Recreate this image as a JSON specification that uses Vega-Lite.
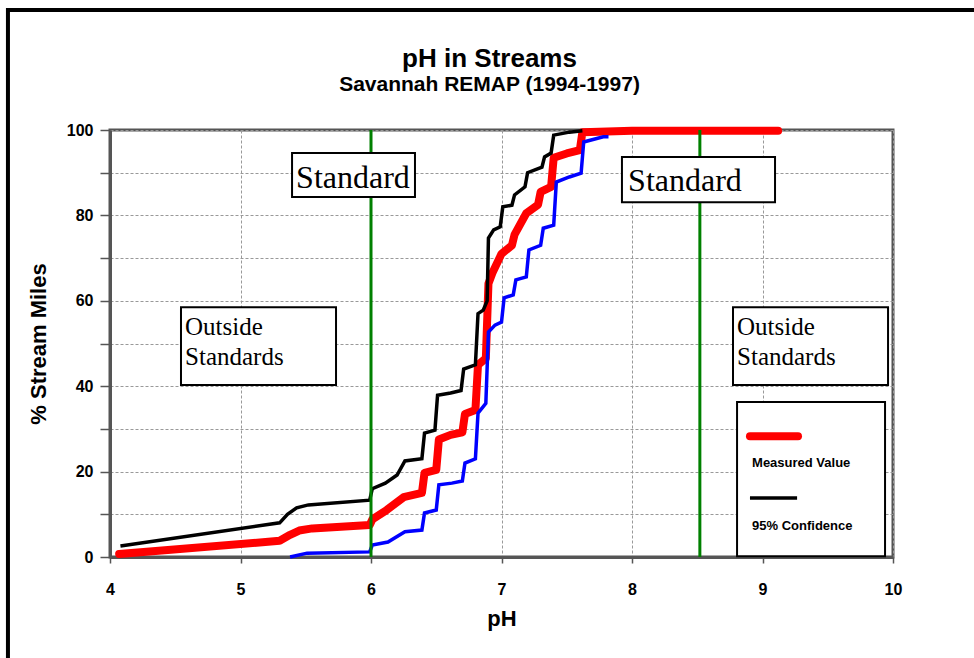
{
  "$schema": "https://vega.github.io/schema/vega-lite/v6.json",
  "width": 783,
  "height": 427,
  "autosize": {"type": "none"},
  "padding": {"left": 110, "top": 130, "right": 81, "bottom": 101},
  "background": "white",
  "title": {
    "text": "pH in Streams",
    "subtitle": "Savannah REMAP (1994-1997)",
    "anchor": "middle",
    "frame": "group",
    "dx": -12,
    "offset": -87,
    "font": "Liberation Sans",
    "fontSize": 26,
    "fontWeight": "bold",
    "color": "black",
    "subtitleFont": "Liberation Sans",
    "subtitleFontSize": 21,
    "subtitleFontWeight": "bold",
    "subtitleColor": "black",
    "subtitlePadding": 2
  },
  "config": {
    "view": {"stroke": "#555555", "strokeWidth": 3},
    "axis": {
      "labelFont": "Liberation Sans",
      "labelFontWeight": "bold",
      "labelFontSize": 16,
      "labelColor": "black",
      "titleFont": "Liberation Sans",
      "titleFontWeight": "bold",
      "titleFontSize": 22,
      "titleColor": "black",
      "domainColor": "#555555",
      "domainWidth": 3,
      "tickColor": "#555555",
      "tickWidth": 1.5,
      "gridColor": "#999999",
      "gridDash": [3, 2],
      "gridWidth": 1,
      "labelOverlap": false,
      "labelFlush": false
    }
  },
  "datasets": {
    "measured": [
      {"ph": 4.07, "pct": 0.7}, {"ph": 5.3, "pct": 3.8}, {"ph": 5.38, "pct": 5.2}, {"ph": 5.45, "pct": 6.2},
      {"ph": 5.55, "pct": 6.7}, {"ph": 5.99, "pct": 7.5}, {"ph": 6.01, "pct": 8.8}, {"ph": 6.12, "pct": 11},
      {"ph": 6.25, "pct": 14}, {"ph": 6.39, "pct": 15}, {"ph": 6.41, "pct": 19.7}, {"ph": 6.5, "pct": 20.4},
      {"ph": 6.52, "pct": 27.5}, {"ph": 6.61, "pct": 28.6}, {"ph": 6.7, "pct": 29.2}, {"ph": 6.72, "pct": 33.5},
      {"ph": 6.8, "pct": 34.4}, {"ph": 6.82, "pct": 45}, {"ph": 6.88, "pct": 46.5}, {"ph": 6.9, "pct": 64},
      {"ph": 6.93, "pct": 66.5}, {"ph": 7.0, "pct": 71}, {"ph": 7.08, "pct": 73}, {"ph": 7.1, "pct": 75.5},
      {"ph": 7.19, "pct": 80.5}, {"ph": 7.28, "pct": 82.5}, {"ph": 7.3, "pct": 85.5}, {"ph": 7.38, "pct": 86.7},
      {"ph": 7.4, "pct": 93.5}, {"ph": 7.5, "pct": 94.5}, {"ph": 7.6, "pct": 95.3}, {"ph": 7.62, "pct": 99.5},
      {"ph": 8.0, "pct": 99.8}, {"ph": 9.12, "pct": 99.8}
    ],
    "upper": [
      {"ph": 4.08, "pct": 2.6}, {"ph": 5.3, "pct": 8.0}, {"ph": 5.36, "pct": 10}, {"ph": 5.43, "pct": 11.5},
      {"ph": 5.52, "pct": 12.2}, {"ph": 5.99, "pct": 13.3}, {"ph": 6.01, "pct": 16.0}, {"ph": 6.11, "pct": 17.3},
      {"ph": 6.2, "pct": 19.2}, {"ph": 6.26, "pct": 22.5}, {"ph": 6.39, "pct": 23}, {"ph": 6.41, "pct": 29},
      {"ph": 6.49, "pct": 29.7}, {"ph": 6.51, "pct": 37.9}, {"ph": 6.61, "pct": 38.4}, {"ph": 6.69, "pct": 39},
      {"ph": 6.71, "pct": 44}, {"ph": 6.8, "pct": 45}, {"ph": 6.82, "pct": 57}, {"ph": 6.86, "pct": 57.8},
      {"ph": 6.89, "pct": 60}, {"ph": 6.9, "pct": 74.7}, {"ph": 6.94, "pct": 76.6}, {"ph": 6.99, "pct": 77.3},
      {"ph": 7.01, "pct": 82}, {"ph": 7.08, "pct": 82.4}, {"ph": 7.1, "pct": 84.8}, {"ph": 7.18, "pct": 86.7},
      {"ph": 7.2, "pct": 90}, {"ph": 7.31, "pct": 91.3}, {"ph": 7.33, "pct": 93.7}, {"ph": 7.38, "pct": 94.6},
      {"ph": 7.4, "pct": 98.8}, {"ph": 7.52, "pct": 99.5}, {"ph": 7.62, "pct": 99.8}
    ],
    "lower": [
      {"ph": 5.38, "pct": 0}, {"ph": 5.51, "pct": 0.9}, {"ph": 5.99, "pct": 1.2}, {"ph": 6.01, "pct": 2.8},
      {"ph": 6.13, "pct": 3.5}, {"ph": 6.26, "pct": 5.9}, {"ph": 6.39, "pct": 6.3}, {"ph": 6.41, "pct": 10.3},
      {"ph": 6.5, "pct": 11}, {"ph": 6.52, "pct": 16.9}, {"ph": 6.62, "pct": 17.3}, {"ph": 6.7, "pct": 17.8},
      {"ph": 6.72, "pct": 22}, {"ph": 6.8, "pct": 23}, {"ph": 6.82, "pct": 33.7}, {"ph": 6.88, "pct": 36},
      {"ph": 6.9, "pct": 52.7}, {"ph": 6.95, "pct": 54.3}, {"ph": 7.0, "pct": 55}, {"ph": 7.02, "pct": 60.7},
      {"ph": 7.09, "pct": 61.4}, {"ph": 7.11, "pct": 64.9}, {"ph": 7.19, "pct": 65.6}, {"ph": 7.21, "pct": 71.9},
      {"ph": 7.3, "pct": 73}, {"ph": 7.32, "pct": 77}, {"ph": 7.4, "pct": 77.7}, {"ph": 7.42, "pct": 87.8},
      {"ph": 7.52, "pct": 89}, {"ph": 7.61, "pct": 89.9}, {"ph": 7.63, "pct": 97.2}, {"ph": 7.78, "pct": 98.4},
      {"ph": 7.82, "pct": 98.4}
    ],
    "standards": [{"ph": 6.0}, {"ph": 8.52}],
    "frame": [{"ph": 3.218, "ph2": 11.5, "pct": 128.1, "pct2": -40}],
    "boxes": [
      {"ph": 5.395, "ph2": 6.337, "pct": 94.6, "pct2": 84.3},
      {"ph": 7.923, "ph2": 9.096, "pct": 93.7, "pct2": 83.1},
      {"ph": 4.544, "ph2": 5.732, "pct": 58.5, "pct2": 40.3},
      {"ph": 8.774, "ph2": 9.962, "pct": 58.5, "pct2": 40.3},
      {"ph": 8.805, "ph2": 9.939, "pct": 36.3, "pct2": 0.2}
    ],
    "standardText": [
      {"ph": 5.862, "pct": 86.4, "label": "Standard"},
      {"ph": 8.406, "pct": 85.7, "label": "Standard"}
    ],
    "outsideText": [
      {"ph": 4.575, "pct": 52.0, "label": "Outside"},
      {"ph": 4.575, "pct": 45.0, "label": "Standards"},
      {"ph": 8.805, "pct": 52.0, "label": "Outside"},
      {"ph": 8.805, "pct": 45.0, "label": "Standards"}
    ],
    "legendRed": [{"ph": 8.904, "ph2": 9.272, "pct": 28.3}],
    "legendBlack": [{"ph": 8.904, "ph2": 9.265, "pct": 13.8}],
    "legendText": [
      {"ph": 8.92, "pct": 21.1, "label": "Measured Value"},
      {"ph": 8.92, "pct": 6.3, "label": "95% Confidence"}
    ]
  },
  "layer": [
    {
      "data": {"name": "measured"},
      "mark": {"type": "line", "color": "#ff0000", "strokeWidth": 8, "strokeCap": "round", "strokeJoin": "round"},
      "encoding": {
        "x": {
          "field": "ph", "type": "quantitative",
          "scale": {"domain": [4, 10], "nice": false, "zero": false},
          "axis": {
            "title": "pH",
            "format": "d",
            "values": [4, 4.5, 5, 5.5, 6, 6.5, 7, 7.5, 8, 8.5, 9, 9.5, 10],
            "labelExpr": "datum.value % 1 === 0 ? datum.label : ''",
            "tickSize": 6,
            "labelPadding": 18,
            "titlePadding": 11,
            "grid": true
          }
        },
        "y": {
          "field": "pct", "type": "quantitative",
          "scale": {"domain": [0, 100], "nice": false},
          "axis": {
            "title": "% Stream Miles",
            "values": [0, 10, 20, 30, 40, 50, 60, 70, 80, 90, 100],
            "labelExpr": "datum.value % 20 === 0 ? datum.label : ''",
            "tickSize": 10,
            "labelPadding": 7,
            "titlePadding": 16,
            "grid": true
          }
        }
      }
    },
    {
      "data": {"name": "upper"},
      "mark": {"type": "line", "color": "#000000", "strokeWidth": 3.5},
      "encoding": {
        "x": {"field": "ph", "type": "quantitative"},
        "y": {"field": "pct", "type": "quantitative"}
      }
    },
    {
      "data": {"name": "lower"},
      "mark": {"type": "line", "color": "#0000ff", "strokeWidth": 3.5},
      "encoding": {
        "x": {"field": "ph", "type": "quantitative"},
        "y": {"field": "pct", "type": "quantitative"}
      }
    },
    {
      "data": {"name": "standards"},
      "mark": {"type": "rule", "color": "#008000", "strokeWidth": 3},
      "encoding": {
        "x": {"field": "ph", "type": "quantitative"}
      }
    },
    {
      "data": {"name": "boxes"},
      "mark": {"type": "rect", "fill": "white", "stroke": "black", "strokeWidth": 2},
      "encoding": {
        "x": {"field": "ph", "type": "quantitative"},
        "x2": {"field": "ph2"},
        "y": {"field": "pct", "type": "quantitative"},
        "y2": {"field": "pct2"}
      }
    },
    {
      "data": {"name": "legendRed"},
      "mark": {"type": "rule", "color": "#ff0000", "strokeWidth": 8, "strokeCap": "round"},
      "encoding": {
        "x": {"field": "ph", "type": "quantitative"},
        "x2": {"field": "ph2"},
        "y": {"field": "pct", "type": "quantitative"}
      }
    },
    {
      "data": {"name": "legendBlack"},
      "mark": {"type": "rule", "color": "#000000", "strokeWidth": 3.5},
      "encoding": {
        "x": {"field": "ph", "type": "quantitative"},
        "x2": {"field": "ph2"},
        "y": {"field": "pct", "type": "quantitative"}
      }
    },
    {
      "data": {"name": "standardText"},
      "mark": {"type": "text", "font": "Liberation Serif", "fontSize": 32, "align": "center", "baseline": "alphabetic", "color": "black"},
      "encoding": {
        "x": {"field": "ph", "type": "quantitative"},
        "y": {"field": "pct", "type": "quantitative"},
        "text": {"field": "label"}
      }
    },
    {
      "data": {"name": "outsideText"},
      "mark": {"type": "text", "font": "Liberation Serif", "fontSize": 25, "align": "left", "baseline": "alphabetic", "color": "black"},
      "encoding": {
        "x": {"field": "ph", "type": "quantitative"},
        "y": {"field": "pct", "type": "quantitative"},
        "text": {"field": "label"}
      }
    },
    {
      "data": {"name": "legendText"},
      "mark": {"type": "text", "font": "Liberation Sans", "fontSize": 13, "fontWeight": "bold", "align": "left", "baseline": "alphabetic", "color": "black"},
      "encoding": {
        "x": {"field": "ph", "type": "quantitative"},
        "y": {"field": "pct", "type": "quantitative"},
        "text": {"field": "label"}
      }
    },
    {
      "data": {"name": "frame"},
      "mark": {"type": "rect", "fill": null, "fillOpacity": 0, "stroke": "black", "strokeWidth": 4, "clip": false},
      "encoding": {
        "x": {"field": "ph", "type": "quantitative"},
        "x2": {"field": "ph2"},
        "y": {"field": "pct", "type": "quantitative"},
        "y2": {"field": "pct2"}
      }
    }
  ]
}
